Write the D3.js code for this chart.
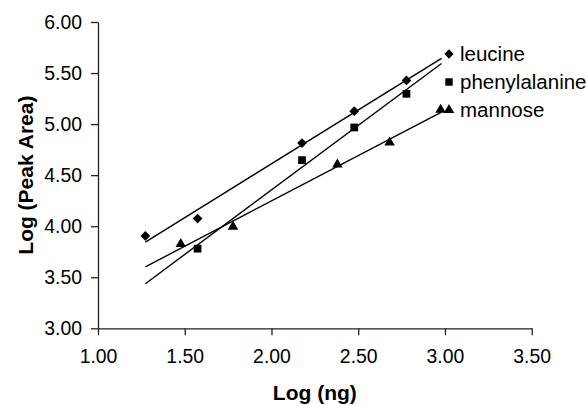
<!DOCTYPE html>
<html lang="en">
<head>
<meta charset="UTF-8">
<title>Log (Peak Area) vs Log (ng)</title>
<style>
  body { margin: 0; background: #fff; }
  svg { display: block; font-family: Arial, "Liberation Sans", sans-serif; }
</style>
</head>
<body>
<svg id="chart" width="586" height="406"></svg>
<script src="https://cdn.jsdelivr.net/npm/d3@7"></script>
<script>
// data (log10 of ng, log10 of peak area)
const leucineX = [1.273, 1.574, 2.176, 2.477, 2.778];
const leucineY = [3.905, 4.075, 4.814, 5.127, 5.428];
const pheX = [1.574, 2.176, 2.477, 2.778];
const pheY = [3.780, 4.647, 4.967, 5.297];
const mannoseX = [1.477, 1.778, 2.380, 2.681, 2.975];
const mannoseY = [3.826, 3.996, 4.604, 4.820, 5.140];
const seriesNames = ["leucine", "phenylalanine", "mannose"];
const trendRange = [1.273, 2.98];
const xTicks = [1.0, 1.5, 2.0, 2.5, 3.0, 3.5];
const yTicks = [3.0, 3.5, 4.0, 4.5, 5.0, 5.5, 6.0];

const series = [
  { name: seriesNames[0], xs: leucineX, ys: leucineY, shape: d3.symbolDiamond2 },
  { name: seriesNames[1], xs: pheX, ys: pheY, shape: d3.symbolSquare },
  { name: seriesNames[2], xs: mannoseX, ys: mannoseY, shape: d3.symbolTriangle }
];

const svg = d3.select("#chart");
const x = d3.scaleLinear().domain([1, 3.5]).range([98, 531.7]);
const y = d3.scaleLinear().domain([3, 6]).range([328.3, 22]);

// axes
const xAxis = svg.append("g")
  .attr("transform", `translate(0,${y(3)})`)
  .call(d3.axisBottom(x).tickValues(xTicks).tickFormat(d3.format(".2f")).tickSize(7).tickSizeOuter(0));
const yAxis = svg.append("g")
  .attr("transform", `translate(${x(1)},0)`)
  .call(d3.axisLeft(y).tickValues(yTicks).tickFormat(d3.format(".2f")).tickSize(7).tickSizeOuter(0));

[xAxis, yAxis].forEach(g => {
  g.select(".domain").attr("stroke", "#222").attr("stroke-width", 1.3);
  g.selectAll(".tick line").attr("stroke", "#222").attr("stroke-width", 1.3);
  g.selectAll(".tick text").attr("font-size", 19.4).attr("fill", "#000").attr("font-family", null);
});
xAxis.selectAll(".tick text").attr("y", 0).attr("dy", 0)
  .attr("transform", "translate(0,35)");
yAxis.selectAll(".tick text").attr("x", -16);

// least squares trendlines, drawn over a shared range like the original
function fit(xs, ys) {
  const mx = d3.mean(xs), my = d3.mean(ys);
  const sxy = d3.sum(xs, (v, i) => (v - mx) * (ys[i] - my));
  const sxx = d3.sum(xs, v => (v - mx) * (v - mx));
  const b = sxy / sxx;
  return v => my + b * (v - mx);
}
const line = d3.line().x(d => x(d[0])).y(d => y(d[1]));

series.forEach(s => {
  const f = fit(s.xs, s.ys);
  svg.append("path")
    .attr("d", line(trendRange.map(v => [v, f(v)])))
    .attr("fill", "none")
    .attr("stroke", "#000")
    .attr("stroke-width", 1.4);

  svg.append("g").selectAll("path")
    .data(s.xs.map((v, i) => [v, s.ys[i]]))
    .join("path")
    .attr("transform", d => `translate(${x(d[0])},${y(d[1])})`)
    .attr("d", d3.symbol().type(s.shape).size(s.shape === d3.symbolTriangle ? 48 : 60))
    .attr("fill", "#000");
});

// legend
const legend = svg.append("g").attr("transform", "translate(449,54)");
series.forEach((s, i) => {
  const row = legend.append("g").attr("transform", `translate(0,${i * 28})`);
  row.append("path")
    .attr("d", d3.symbol().type(s.shape).size(s.shape === d3.symbolTriangle ? 48 : 55))
    .attr("fill", "#000");
  row.append("text")
    .attr("x", 11)
    .attr("y", 7)
    .attr("font-size", 20.5)
    .text(s.name);
});

// axis titles
svg.append("text")
  .attr("x", (x(1) + x(3.5)) / 2)
  .attr("y", 400)
  .attr("text-anchor", "middle")
  .attr("font-size", 21)
  .attr("font-weight", "bold")
  .text("Log (ng)");

svg.append("text")
  .attr("transform", `translate(33,${(y(3) + y(6)) / 2}) rotate(-90)`)
  .attr("text-anchor", "middle")
  .attr("font-size", 21)
  .attr("font-weight", "bold")
  .text("Log (Peak Area)");
</script>
</body>
</html>
